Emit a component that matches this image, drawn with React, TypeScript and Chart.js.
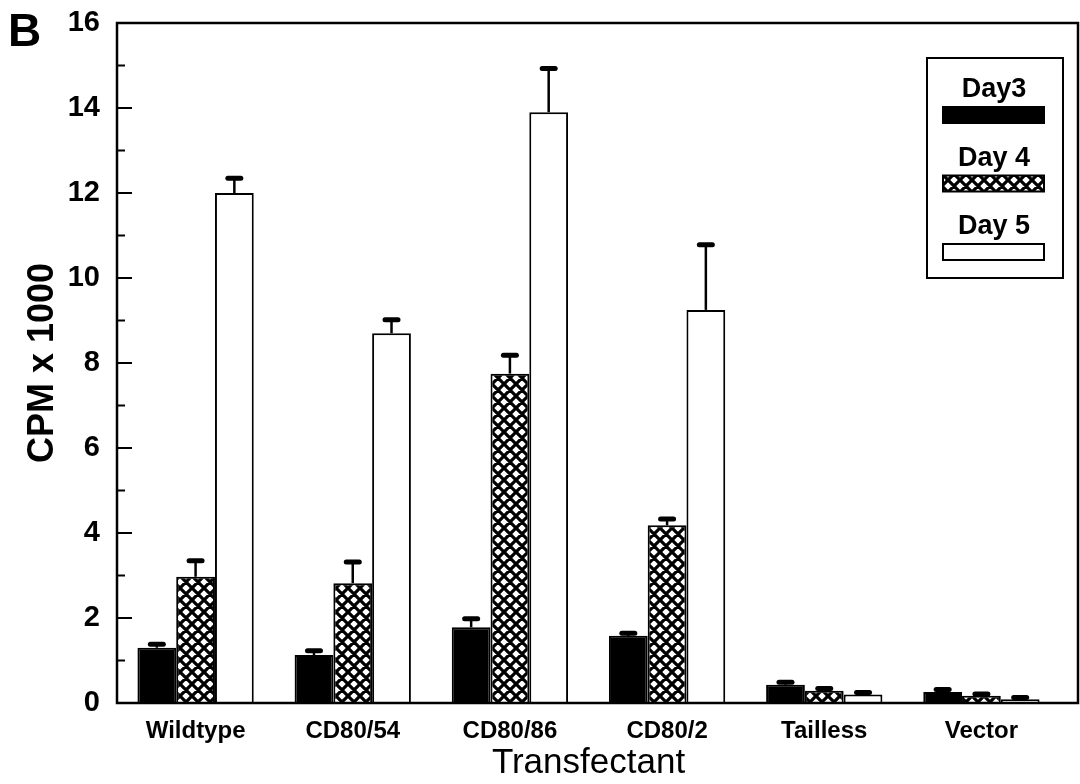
import React, { useEffect, useRef } from "react";
import { Chart, registerables } from "chart.js";

Chart.register(...registerables);

const categories = ["Wildtype", "CD80/54", "CD80/86", "CD80/2", "Tailless", "Vector"];
const seriesLabels = ["Day3", "Day 4", "Day 5"];
const day3 = [1.3, 1.13, 1.78, 1.58, 0.43, 0.26];
const day3Err = [0.08, 0.1, 0.2, 0.06, 0.06, 0.06];
const day4 = [2.97, 2.82, 7.75, 4.18, 0.29, 0.17];
const day4Err = [0.38, 0.5, 0.43, 0.15, 0.05, 0.04];
const day5 = [12.0, 8.7, 13.9, 9.25, 0.2, 0.09];
const day5Err = [0.35, 0.32, 1.03, 1.53, 0.05, 0.04];
const yMin = 0;
const yMax = 16;
const yStep = 2;
const panelLetter = "B";
const xTitle = "Transfectant";
const yTitle = "CPM x 1000";

const FONT = "'Liberation Sans', Arial, Helvetica, sans-serif";

function makeHatch(): CanvasPattern | string {
  const c = document.createElement("canvas");
  const s = 12;
  c.width = s;
  c.height = s;
  const g = c.getContext("2d");
  if (!g) return "#888";
  g.fillStyle = "#fff";
  g.fillRect(0, 0, s, s);
  g.strokeStyle = "#000";
  g.lineWidth = 3.2;
  g.beginPath();
  for (const o of [-s, 0, s]) {
    g.moveTo(o, 0);
    g.lineTo(o + s, s);
    g.moveTo(o + s, 0);
    g.lineTo(o, s);
  }
  g.stroke();
  return g.createPattern(c, "repeat") || "#888";
}

const errorBarPlugin = {
  id: "errorBars",
  afterDatasetsDraw(chart: any) {
    const ctx = chart.ctx;
    const yScale = chart.scales.y;
    chart.data.datasets.forEach((ds: any, i: number) => {
      const meta = chart.getDatasetMeta(i);
      const errs: number[] = ds.errors || [];
      meta.data.forEach((bar: any, j: number) => {
        const v = ds.data[j];
        const e = errs[j] || 0;
        if (!e) return;
        const yTop = yScale.getPixelForValue(v + e);
        ctx.save();
        ctx.strokeStyle = "#000";
        ctx.lineWidth = 2.5;
        ctx.beginPath();
        ctx.moveTo(bar.x, bar.y);
        ctx.lineTo(bar.x, yTop);
        ctx.stroke();
        ctx.lineWidth = 5;
        ctx.lineCap = "round";
        ctx.beginPath();
        ctx.moveTo(bar.x - 6.5, yTop);
        ctx.lineTo(bar.x + 6.5, yTop);
        ctx.stroke();
        ctx.restore();
      });
    });
  },
};

const framePlugin = {
  id: "frame",
  afterDraw(chart: any) {
    const ctx = chart.ctx;
    const a = chart.chartArea;
    const yScale = chart.scales.y;
    const extra = 18;
    ctx.save();
    ctx.strokeStyle = "#000";
    ctx.lineWidth = 2.5;
    ctx.strokeRect(a.left, a.top, a.right + extra - a.left, a.bottom - a.top);
    ctx.lineWidth = 2;
    for (let v = yMin + 1; v < yMax; v += 1) {
      const py = yScale.getPixelForValue(v);
      const len = v % yStep === 0 ? 15 : 8;
      ctx.beginPath();
      ctx.moveTo(a.left, py);
      ctx.lineTo(a.left + len, py);
      ctx.stroke();
    }
    ctx.fillStyle = "#000";
    ctx.font = `900 46px ${FONT}`;
    ctx.textAlign = "left";
    ctx.textBaseline = "alphabetic";
    ctx.fillText(panelLetter, 8, 46);
    ctx.restore();
  },
};

const legendPlugin = {
  id: "boxLegend",
  afterDraw(chart: any) {
    const ctx = chart.ctx;
    const a = chart.chartArea;
    const left = a.right - 133;
    const top = a.top + 35;
    const w = 136;
    const h = 220;
    ctx.save();
    ctx.fillStyle = "#fff";
    ctx.fillRect(left, top, w, h);
    ctx.strokeStyle = "#000";
    ctx.lineWidth = 2;
    ctx.strokeRect(left, top, w, h);
    chart.data.datasets.forEach((ds: any, i: number) => {
      const step = 68.5;
      ctx.fillStyle = "#000";
      ctx.font = `bold 27px ${FONT}`;
      ctx.textAlign = "center";
      ctx.textBaseline = "alphabetic";
      ctx.fillText(ds.label, left + w / 2 - 1, top + 39 + i * step);
      const ry = top + 49 + i * step;
      ctx.fillStyle = ds.backgroundColor;
      ctx.fillRect(left + 16, ry, 101, 16);
      ctx.lineWidth = 2;
      ctx.strokeStyle = "#000";
      ctx.strokeRect(left + 16, ry, 101, 16);
    });
    ctx.restore();
  },
};

export default function App() {
  const ref = useRef<HTMLCanvasElement | null>(null);

  useEffect(() => {
    document.body.style.margin = "0";
    const canvas = ref.current;
    if (!canvas) return;
    const hatch = makeHatch();
    const chart = new Chart(canvas, {
      type: "bar",
      data: {
        labels: categories,
        datasets: [
          { label: seriesLabels[0], data: day3, errors: day3Err, backgroundColor: "#000", borderColor: "#000", borderWidth: 2 } as any,
          { label: seriesLabels[1], data: day4, errors: day4Err, backgroundColor: hatch, borderColor: "#000", borderWidth: 2 } as any,
          { label: seriesLabels[2], data: day5, errors: day5Err, backgroundColor: "#fff", borderColor: "#000", borderWidth: 2 } as any,
        ],
      },
      options: {
        animation: false,
        responsive: false,
        maintainAspectRatio: false,
        layout: { padding: { top: 23, right: 20, left: 0, bottom: 0 } },
        plugins: { legend: { display: false }, tooltip: { enabled: false } },
        datasets: { bar: { categoryPercentage: 0.74, barPercentage: 1.0 } },
        scales: {
          x: {
            grid: { display: false, drawTicks: false },
            border: { display: false },
            ticks: { color: "#000", font: { family: FONT, size: 24, weight: "bold" }, padding: 14, maxRotation: 0 },
            title: { display: true, text: xTitle, color: "#000", font: { family: FONT, size: 35 }, padding: { top: 0, bottom: 0 } },
            afterFit: (s: any) => { s.height = 81; s.paddingLeft = 0; s.paddingRight = 0; },
          },
          y: {
            min: yMin,
            max: yMax,
            grid: { display: false, drawTicks: false },
            border: { display: false },
            ticks: { stepSize: yStep, color: "#000", font: { family: FONT, size: 29, weight: "bold" }, padding: 17 },
            title: { display: true, text: yTitle, color: "#000", font: { family: FONT, size: 36, weight: "bold" }, padding: { top: 21, bottom: 0 } },
            afterFit: (s: any) => { s.width = 117; s.paddingTop = 0; s.paddingBottom = 0; },
          },
        },
      } as any,
      plugins: [errorBarPlugin, framePlugin, legendPlugin],
    });
    return () => chart.destroy();
  }, []);

  return (
    <div style={{ width: 1080, height: 784, position: "relative", background: "#fff" }}>
      <canvas ref={ref} width={1080} height={784} style={{ display: "block", width: 1080, height: 784 }} />
    </div>
  );
}
